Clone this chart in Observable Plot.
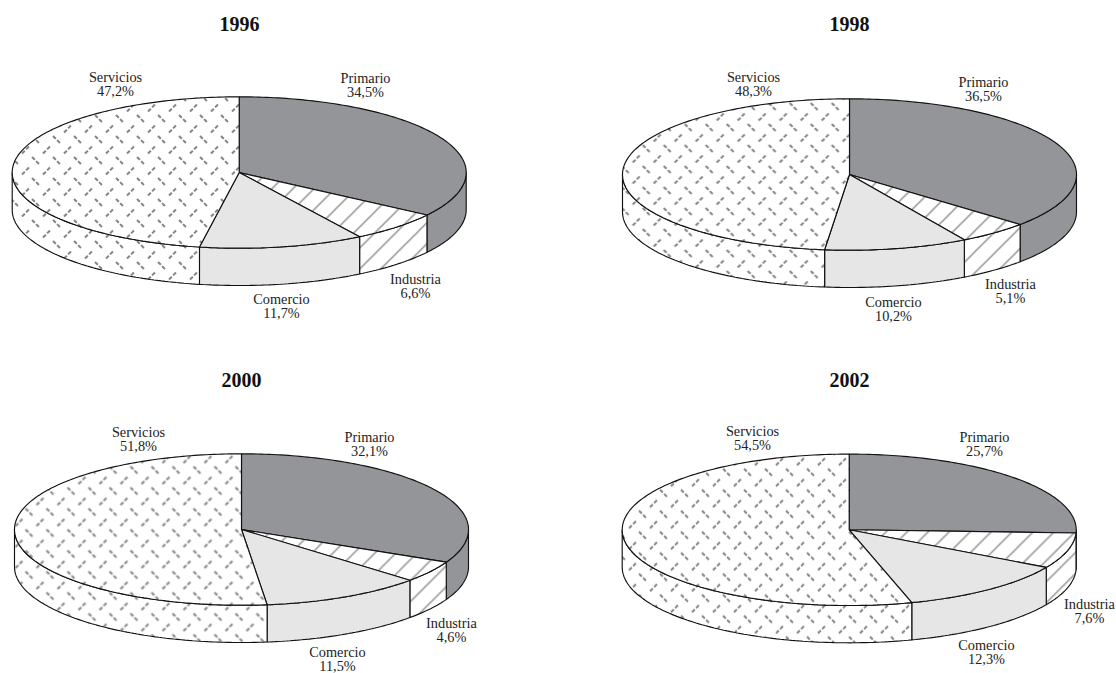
<!DOCTYPE html>
<html lang="es">
<head>
<meta charset="utf-8">
<title>Distribución por sector</title>
<script src="https://cdn.jsdelivr.net/npm/d3@7"></script>
<script src="https://cdn.jsdelivr.net/npm/@observablehq/plot@0.6"></script>
<style>
  html, body { margin: 0; padding: 0; background: #fff; }
  svg { display: block; }
</style>
</head>
<body>
<div id="chart"></div>
<script>
// Participación por sector, en porcentaje, para cada año
const years = [1996, 1998, 2000, 2002];
const sectors = ["Primario", "Industria", "Comercio", "Servicios"];
const primario = [34.5, 36.5, 32.1, 25.7];
const industria = [6.6, 5.1, 4.6, 7.6];
const comercio = [11.7, 10.2, 11.5, 12.3];
const servicios = [47.2, 48.3, 51.8, 54.5];
const shares = [primario, industria, comercio, servicios];

// Centro de cada disco, ubicación de su título y fase de sus tramas
const discs = [
  {cx: 238.7, cy: 172, titleX: 239, titleY: 24, hatch: 18.7, dotX: 9.5, dotY: 8.5},
  {cx: 849, cy: 174, titleX: 849, titleY: 24, hatch: 7.7, dotX: 11.2, dotY: -3.5},
  {cx: 241, cy: 529, titleX: 241, titleY: 380, hatch: 3, dotX: 3, dotY: 3},
  {cx: 848.7, cy: 529.3, titleX: 849, titleY: 380, hatch: 10, dotX: 7.5, dotY: 5.2}
];
const rx = 227, ry = 75.7, depth = 37.3;

// Centro de cada rótulo, en el orden de sectors, para cada año
const labelSpots = [
  [[365, 85], [415, 286], [281, 306], [115, 84]],
  [[983, 89], [1010, 291], [893, 309], [753, 84]],
  [[369, 444], [451, 630], [337, 659], [138, 439]],
  [[984, 444], [1089, 611], [986, 652], [752, 438]]
];

const fillsFor = (j) => ["#939598", `url(#rayado${j})`, "#e6e6e6", `url(#punteado${j})`];

const rim = (d, t, drop = 0) => ({
  x: d.cx + rx * Math.sin(t),
  y: d.cy - ry * Math.cos(t) + drop
});

// Recorre el arco del disco entre dos ángulos, a paso fijo
function arc(d, t0, t1, drop = 0) {
  const n = Math.max(2, Math.ceil((t1 - t0) / (Math.PI / 180)));
  return d3.range(n + 1).map((i) => rim(d, t0 + ((t1 - t0) * i) / n, drop));
}

const vertices = [];
const labels = [];
years.forEach((year, j) => {
  const d = discs[j];
  const fills = fillsFor(j);
  const total = d3.sum(shares, (s) => s[j]);
  const walls = [];
  const tops = [];
  let acc = 0;
  sectors.forEach((sector, k) => {
    const t0 = (acc / total) * 2 * Math.PI;
    acc += shares[k][j];
    const t1 = (acc / total) * 2 * Math.PI;
    // Pared lateral: sólo la parte delantera del disco es visible
    const a = Math.max(t0, Math.PI / 2);
    const b = Math.min(t1, (3 * Math.PI) / 2);
    if (b > a) {
      const ring = [...arc(d, a, b), ...arc(d, a, b, depth).reverse()];
      ring.push(ring[0]);
      walls.push(ring.map((p) => ({...p, shape: `${year}-pared-${sector}`, fill: fills[k]})));
    }
    const apex = {x: d.cx, y: d.cy};
    const wedge = [apex, ...arc(d, t0, t1), apex];
    tops.push(wedge.map((p) => ({...p, shape: `${year}-cara-${sector}`, fill: fills[k]})));
    const [x, y] = labelSpots[j][k];
    labels.push({x, y, text: `${sector}\n${shares[k][j].toFixed(1).replace(".", ",")}%`});
  });
  vertices.push(...walls.flat(), ...tops.flat());
});

const titles = years.map((year, j) => ({x: discs[j].titleX, y: discs[j].titleY, text: String(year)}));

// Tramas de relleno para Industria y Servicios, una por disco
const patterns = () => {
  const defs = d3.create("svg:defs");
  defs.html(discs.map((d, j) => `
    <pattern id="rayado${j}" patternUnits="userSpaceOnUse" width="21" height="21" x="${d.hatch}" y="0">
      <rect width="21" height="21" fill="#fff"/>
      <path d="M-2,2 L2,-2 M0,21 L21,0 M19,23 L23,19" stroke="#858585" stroke-width="1.25" fill="none"/>
    </pattern>
    <pattern id="punteado${j}" patternUnits="userSpaceOnUse" width="21" height="21" x="${d.dotX}" y="${d.dotY}">
      <rect width="21" height="21" fill="#fff"/>
      <path d="M1,1 L8,8" stroke="#858585" stroke-width="2" stroke-dasharray="4 1.8" fill="none"/>
      <path d="M12,18.5 L19,11.5" stroke="#858585" stroke-width="2" stroke-dasharray="4 1.8" fill="none"/>
    </pattern>`).join(""));
  return defs.node();
};

const chart = Plot.plot({
  width: 1116,
  height: 673,
  margin: 0,
  style: {background: "#fff"},
  x: {domain: [0, 1116], range: [0, 1116], axis: null},
  y: {domain: [0, 673], range: [0, 673], axis: null},
  color: {type: "identity"},
  marks: [
    patterns,
    Plot.line(vertices, {
      x: "x",
      y: "y",
      z: "shape",
      fill: "fill",
      stroke: "#111",
      strokeWidth: 1.15,
      strokeLinejoin: "miter",
      curve: "linear"
    }),
    Plot.text(labels, {
      x: "x",
      y: "y",
      text: "text",
      fontFamily: "Liberation Serif",
      fontSize: 14.3,
      lineHeight: 1,
      fill: "#222"
    }),
    Plot.text(titles, {
      x: "x",
      y: "y",
      text: "text",
      fontFamily: "Liberation Serif",
      fontWeight: "bold",
      fontSize: 20,
      fill: "#111"
    })
  ]
});
document.getElementById("chart").append(chart);
</script>
</body>
</html>
